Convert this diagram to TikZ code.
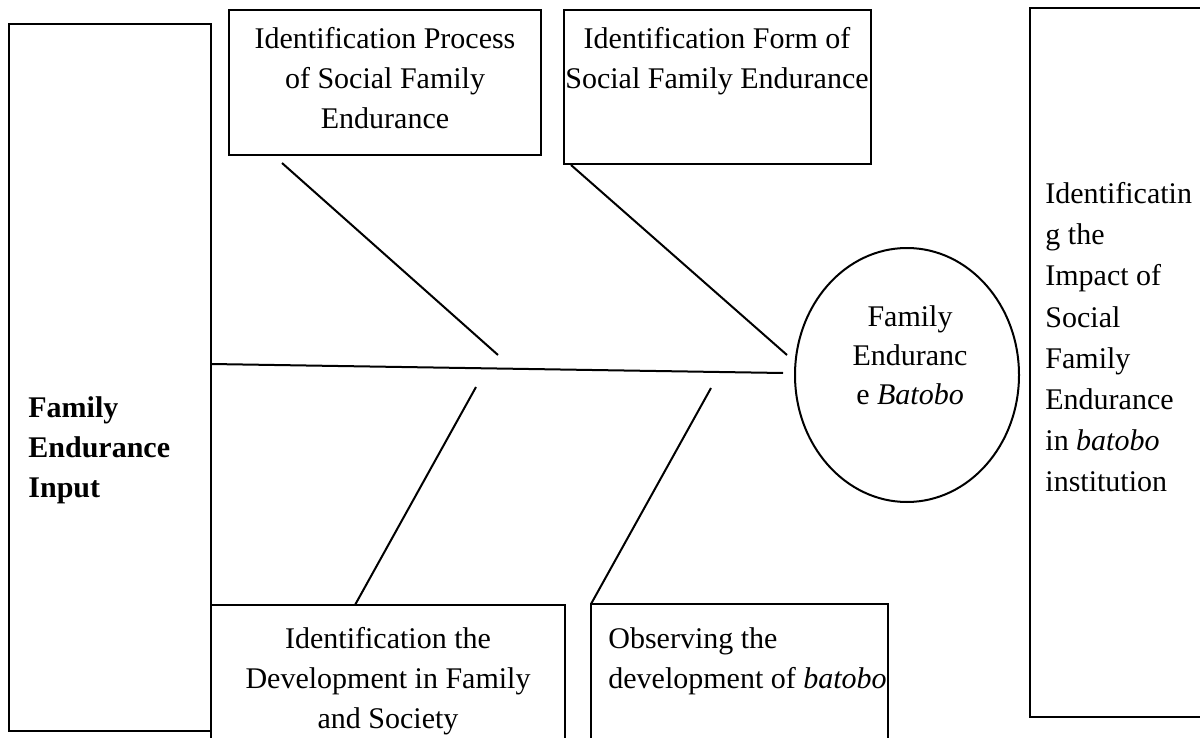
\documentclass[tikz,border=0pt]{standalone}
\usepackage{fontspec}
\setmainfont{Liberation Serif}
\usetikzlibrary{fit,shapes.geometric}
\begin{document}
\begin{tikzpicture}[x=0.5pt,y=-0.5pt,
  box/.style={draw, line width=1pt, inner sep=0pt},
  txt/.style={font=\fontsize{15}{20}\selectfont, inner sep=0pt, align=center},
  ln/.style={line width=1pt}]
\useasboundingbox (0,0) rectangle (1200,738);
\clip (0,0) rectangle (1200,738);
% boxes
\node[box, fit={(9,24)(211,731)}] (input) {};
\node[box, fit={(229,10)(541,155)}] (proc) {};
\node[box, fit={(564,10)(871,164)}] (form) {};
\node[box, fit={(1030,8)(1215,717)}] (impact) {};
\node[box, fit={(211,605)(565,760)}] (dev) {};
\node[box, fit={(591,604)(888,760)}] (obs) {};
\node[draw, line width=1pt, ellipse, inner sep=0pt, minimum width=112pt, minimum height=127pt] (fe) at (907,375) {};
% texts
\node[txt] (tproc) at (385,78) {Identification Process\\of Social Family\\Endurance};
\node[txt] (tform) at (717,61) {Identification Form of\\Social Family Endurance};
\node[txt, align=left, anchor=west, font=\fontsize{15}{20}\selectfont\bfseries] (tinput) at (28,450) {Family\\Endurance\\Input};
\node[txt, align=left, anchor=north west, font=\fontsize{15}{20.6}\selectfont] (timpact) at (1045,182) {Identificatin\\g the\\Impact of\\Social\\Family\\Endurance\\in \textit{batobo}\\institution};
\node[txt] (tdev) at (388,681) {Identification the\\Development in Family\\and Society};
\node[txt, align=left, anchor=west] (tobs) at (608,661) {Observing the\\development of \textit{batobo}};
\node[txt, font=\fontsize{15}{19.5}\selectfont] (tfe) at (910,355) {Family\\Enduranc\\e \textit{Batobo}};
% connectors
\coordinate (s0) at (211,364);
\coordinate (s1) at (783,373);
\coordinate (a0) at (282,163);
\coordinate (a1) at (498,355);
\coordinate (b0) at (571,165);
\coordinate (b1) at (787,355);
\coordinate (c0) at (476,387);
\coordinate (c1) at (355,605);
\coordinate (d0) at (711,388);
\coordinate (d1) at (591,604);
\draw[ln] (s0) -- (s1);
\draw[ln] (a0) -- (a1);
\draw[ln] (b0) -- (b1);
\draw[ln] (c0) -- (c1);
\draw[ln] (d0) -- (d1);
\end{tikzpicture}
\end{document}
